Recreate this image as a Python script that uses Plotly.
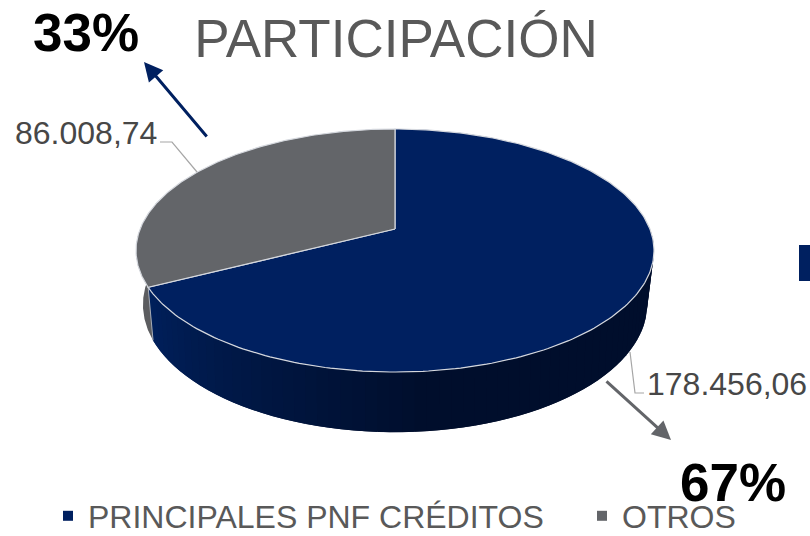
import numpy as np
import plotly.graph_objects as go

# Data
categories = ["PRINCIPALES PNF CRÉDITOS", "OTROS"]
values = [178456.06, 86008.74]
value_labels = ["178.456,06", "86.008,74"]
share_labels = ["67%", "33%"]
title_text = "PARTICIPACIÓN"

NAVY = "#002060"
GRAY = "#636569"
TEXT = "#595959"
LABEL = "#474747"
W, H = 810, 536

# Tilted-disc projection of an angle on the pie (clockwise from 12 o'clock)
def top(theta):
    X, Y = np.sin(theta), np.cos(theta)
    w = 1 + 0.177 * Y
    return 395 + 254.9 * X / w, 229 - 117.7 * Y / w

def bottom(theta):
    X, Y = np.sin(theta), np.cos(theta)
    w = 1 + 0.2 * Y
    return 395 + 247 * X / w, 279 - 122.6 * Y / w

split = 2 * np.pi * values[0] / sum(values)

def lerp_color(a, b, t):
    return "rgb(%d,%d,%d)" % tuple(round(a[i] + (b[i] - a[i]) * t) for i in range(3))

fig = go.Figure()

def side(t0, t1, color):
    tt = np.linspace(t0, t1, 8)
    xt, yt = top(tt)
    xb, yb = bottom(tt[::-1])
    fig.add_trace(go.Scatter(
        x=np.r_[xt, xb], y=np.r_[yt, yb], mode="lines", fill="toself",
        fillcolor=color, line=dict(width=0),
        showlegend=False, hoverinfo="skip"))

# Grey rim, visible only left of the split
side(split, 1.53 * np.pi, "#5c5d60")

# Navy rim with shading that darkens toward the front right
rim_edges = np.linspace(0.47 * np.pi, split, 70)
light = (0, 32, 92)
dark = (0, 14, 44)
step = rim_edges[1] - rim_edges[0]
for a, b in zip(rim_edges[:-1], rim_edges[1:]):
    m = (a + b) / 2
    t = np.clip((split - m) / (split - np.pi * 0.97), 0, 1)
    side(a, min(b + step, split), lerp_color(light, dark, t))

# Seam between the rim colours
sx_t, sy_t = top(split)
sx_b, sy_b = bottom(split)
fig.add_trace(go.Scatter(x=[sx_t, sx_b], y=[sy_t, sy_b], mode="lines",
                         line=dict(color="#a9adb5", width=1),
                         showlegend=False, hoverinfo="skip"))

# Top faces
apex_xy = (395, 229)
for t0, t1, color, name in [(0, split, NAVY, categories[0]),
                            (split, 2 * np.pi, GRAY, categories[1])]:
    tt = np.linspace(t0, t1, 240)
    xs, ys = top(tt)
    fig.add_trace(go.Scatter(
        x=np.r_[apex_xy[0], xs, apex_xy[0]], y=np.r_[apex_xy[1], ys, apex_xy[1]],
        mode="lines", fill="toself", fillcolor=color,
        line=dict(color="#d5d8de", width=1.2),
        name=name, showlegend=False, hoverinfo="skip"))

# Legend entries, one legend each so that they can be spaced as in the reference
for name, color, lg in zip(categories, [NAVY, GRAY], ["legend", "legend2"]):
    fig.add_trace(go.Scatter(x=[None], y=[None], mode="markers", name=name, legend=lg,
                             marker=dict(symbol="square", size=10, color=color),
                             showlegend=True))

# Leader lines
leader_x = [[160, 172, 197], [630, 635, 644]]
leader_y = [[142, 142, 172], [352, 393, 393]]
for lx, ly in zip(leader_x, leader_y):
    fig.add_trace(go.Scatter(x=lx, y=ly, mode="lines",
                             line=dict(color="#a6a6a6", width=1.2),
                             showlegend=False, hoverinfo="skip"))

FONT = "Liberation Sans, Arial, sans-serif"
def label(x, y, text, size, color, bold=False):
    fig.add_annotation(x=x, y=y, text=f"<b>{text}</b>" if bold else text, showarrow=False,
                       xanchor="center", yanchor="middle",
                       font=dict(family=FONT, size=size, color=color))

label(85.5, 32, share_labels[1], 53, "#000000", True)
label(733, 482, share_labels[0], 53, "#000000", True)
label(85.5, 133, value_labels[1], 32, LABEL)
label(727, 384, value_labels[0], 32, LABEL)

# Arrows
fig.add_annotation(x=144, y=62, ax=208, ay=138, axref="x", ayref="y", xref="x", yref="y",
                   text="", showarrow=True, arrowhead=2, arrowsize=1.25, arrowwidth=3, arrowcolor=NAVY)
fig.add_annotation(x=671, y=440, ax=605, ay=380, axref="x", ayref="y", xref="x", yref="y",
                   text="", showarrow=True, arrowhead=2, arrowsize=1.25, arrowwidth=3, arrowcolor=GRAY)

# Cropped element at the right edge of the slide
fig.add_shape(type="rect", x0=799, x1=811, y0=245, y1=281, fillcolor=NAVY, line_width=0)

legend_common = dict(orientation="h", xanchor="left", y=1 - 516 / H, yanchor="middle",
                     font=dict(family=FONT, size=32, color=TEXT), bgcolor="rgba(0,0,0,0)")
fig.update_layout(
    width=W, height=H, margin=dict(l=0, r=0, t=0, b=0, autoexpand=False),
    paper_bgcolor="white", plot_bgcolor="white",
    title=dict(text=title_text, x=396 / W, xanchor="center", y=1 - 38 / H, yanchor="middle",
               font=dict(family=FONT, size=53, color=TEXT)),
    xaxis=dict(range=[0, W], visible=False, fixedrange=True),
    yaxis=dict(range=[H, 0], visible=False, fixedrange=True),
    legend=dict(x=48 / W, **legend_common),
    legend2=dict(x=582 / W, **legend_common),
)
fig.write_html("out.html", config={"displayModeBar": False},
               post_script="document.body.style.margin='0';document.documentElement.style.overflow='hidden';")
